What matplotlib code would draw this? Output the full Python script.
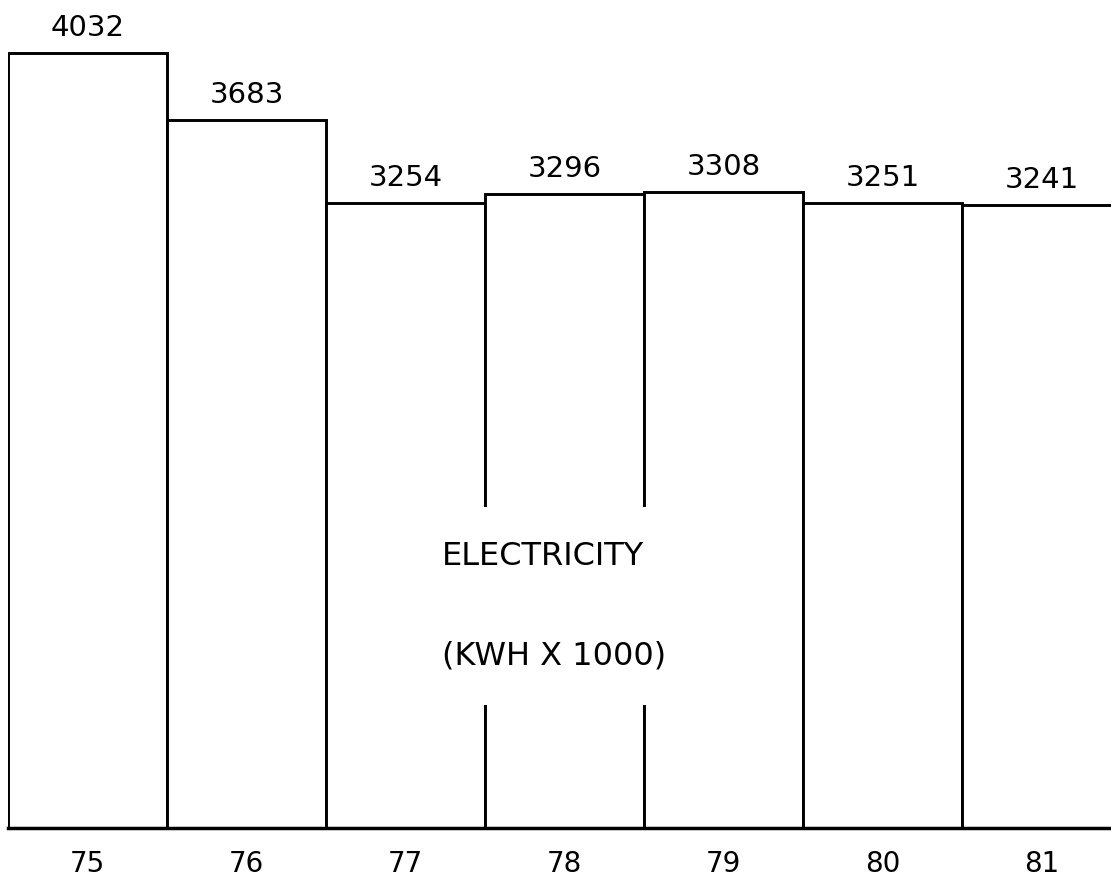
import numpy as np
import matplotlib.pyplot as plt

#%% Data
years = ['75', '76', '77', '78', '79', '80', '81']
kwh = [4032, 3683, 3254, 3296, 3308, 3251, 3241]

#%% Figure
W, H = 1111, 880
fig = plt.figure(figsize=(W / 100, H / 100), dpi=100)
plt.rcParams['font.family'] = ['DejaVu Sans']

bar_px = 159.0  # pixel width of one bar
base_px = 828   # baseline position from top
left_px = 8
ax = fig.add_axes([left_px / W, (H - base_px) / H, (W - left_px) / W, base_px / H])
ax.set_xlim(-0.5, -0.5 + (W - left_px) / bar_px)
ax.set_ylim(0, 4032 * base_px / 775)

x = np.arange(len(years))
ax.bar(x, kwh, width=1.0, color='white', edgecolor='black', linewidth=2.1, zorder=2)

# value labels above each bar
for xi, v in zip(x, kwh):
    ax.annotate(str(v), (xi, v), xytext=(0, 18), textcoords='offset points',
                ha='center', va='center', fontsize=21, color='black')

# centred caption, white box breaks the bar edges behind it
ax.text(2.23, (base_px - 606) * 4032 / 775, 'ELECTRICITY\n\n(KWH X 1000)',
        ha='left', va='center', multialignment='left', fontsize=23,
        linespacing=1.79, color='black', zorder=5,
        bbox=dict(boxstyle='square,pad=1.05', facecolor='white', edgecolor='none'))

# axes styling
for side in ['top', 'right', 'left']:
    ax.spines[side].set_visible(False)
ax.spines['bottom'].set_linewidth(2.5)
ax.spines['bottom'].set_zorder(3)
ax.set_yticks([])
ax.set_xticks(x)
ax.set_xticklabels(years, fontsize=20)
ax.tick_params(axis='x', length=0, pad=16)

fig.savefig('out.png', dpi=100, facecolor='white')
